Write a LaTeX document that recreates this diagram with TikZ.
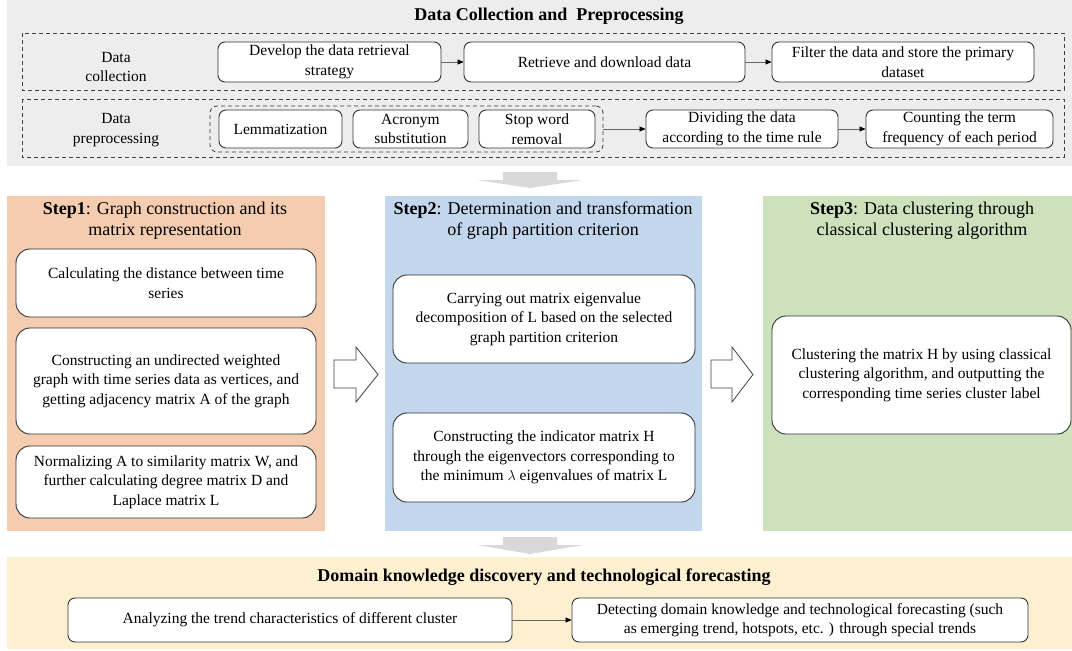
\documentclass[tikz,border=0pt]{standalone}
\usepackage{fontspec}
\setmainfont{Liberation Serif}
\usetikzlibrary{arrows.meta}
\definecolor{topgray}{HTML}{EDEDED}
\definecolor{pone}{HTML}{F4CCAF}
\definecolor{ptwo}{HTML}{C2D6EC}
\definecolor{pthree}{HTML}{CCE1BC}
\definecolor{pfour}{HTML}{FDF0D0}
\begin{document}
\begin{tikzpicture}[x=1pt,y=-1pt,
  txt/.style={font=\fontsize{15.5}{19.5}\selectfont, align=center, inner sep=0pt},
  rbox/.style={draw=black!80, line width=0.9pt, fill=white, rounded corners=7pt, align=center, inner sep=0pt, font=\fontsize{15.5}{19.5}\selectfont},
  sbox/.style={rbox, rounded corners=14pt},
  dbox/.style={draw=black!75, line width=0.8pt, dash pattern=on 4pt off 3pt},
  flow/.style={draw=black!60, line width=0.7pt, -{Triangle[length=6pt,width=5pt,color=black]}},
  bigarrow/.style={draw=black!75, line width=0.8pt, fill=white, line join=miter},
  grayarrow/.style={fill=black!15},
  steptitle/.style={font=\fontsize{18}{21}\selectfont, align=center, inner sep=0pt},
  maintitle/.style={font=\bfseries\fontsize{18}{21}\selectfont, inner sep=0pt},
]
\useasboundingbox (0,0) rectangle (1072,651);
% backgrounds
\fill[topgray] (7,0) rectangle (1072,166);
\fill[pone] (7,196) rectangle (325,531);
\fill[ptwo] (385,196) rectangle (702,531);
\fill[pthree] (763,196) rectangle (1072,531);
\fill[pfour] (7,557) rectangle (1072,649);
% gray down arrows
\fill[grayarrow] (503,172) -- (557,172) -- (557,180) -- (583,180) -- (530,188) -- (477,180) -- (503,180) -- cycle;
\fill[grayarrow] (503,537) -- (557,537) -- (557,545) -- (583,545) -- (530,554) -- (477,545) -- (503,545) -- cycle;
% hollow arrows
\draw[bigarrow] (334,360) -- (356,360) -- (356,347) -- (378,374.5) -- (356,402) -- (356,388) -- (334,388) -- cycle;
\draw[bigarrow] (711,360) -- (732,360) -- (732,347) -- (753,374.5) -- (732,402) -- (732,388) -- (711,388) -- cycle;
% top section
\node[maintitle] (ttl) at (549,16) {Data Collection and~~Preprocessing};
\draw[dbox] (22,33) rectangle (1064,90);
\draw[dbox] (22,99) rectangle (1064,157);
\node[txt] (lbl1) at (116,67) {Data\\collection};
\node[txt] (lbl2) at (116,130) {Data\\preprocessing};
\node[rbox, minimum width=223pt, minimum height=40pt] (dev) at (329.5,62) {Develop the data retrieval\\strategy};
\node[rbox, minimum width=281pt, minimum height=40pt] (ret) at (604.5,62) {Retrieve and download data};
\node[rbox, minimum width=262pt, minimum height=40pt] (fil) at (903,62) {Filter the data and store the primary\\dataset};
\node[dbox, rounded corners=7pt, minimum width=393pt, minimum height=46pt] (grp) at (406.5,129) {};
\node[rbox, minimum width=123pt, minimum height=38pt] (lem) at (280.5,129) {Lemmatization};
\node[rbox, minimum width=115pt, minimum height=38pt] (acr) at (410.5,129) {Acronym\\substitution};
\node[rbox, minimum width=116pt, minimum height=38pt] (stp) at (537,129) {Stop word\\removal};
\node[rbox, minimum width=192pt, minimum height=38pt] (div) at (742,129) {Dividing the data\\according to the time rule};
\node[rbox, minimum width=187pt, minimum height=38pt] (cnt) at (959.5,129) {Counting the term\\frequency of each period};
\draw[flow] (dev) -- (ret);
\draw[flow] (ret) -- (fil);
\draw[flow] (grp) -- (div);
\draw[flow] (div) -- (cnt);
% step panels
\node[steptitle] (t1) at (165,220.5) {\textbf{Step1}: Graph construction and its\\matrix representation};
\node[steptitle] (t2) at (543,220.5) {\textbf{Step2}: Determination and transformation\\of graph partition criterion};
\node[steptitle] (t3) at (922,220.5) {\textbf{Step3}: Data clustering through\\classical clustering algorithm};
\node[sbox, minimum width=300pt, minimum height=68pt] (s1a) at (166,283) {Calculating the distance between time\\series};
\node[sbox, minimum width=300pt, minimum height=106pt] (s1b) at (166,381) {Constructing an undirected weighted\\graph with time series data as vertices, and\\getting adjacency matrix A of the graph};
\node[sbox, minimum width=300pt, minimum height=72pt] (s1c) at (166,482) {Normalizing A to similarity matrix W, and\\further calculating degree matrix D and\\Laplace matrix L};
\node[sbox, minimum width=302pt, minimum height=88pt] (s2a) at (544,319) {Carrying out matrix eigenvalue\\decomposition of L based on the selected\\graph partition criterion};
\node[sbox, minimum width=302pt, minimum height=89pt] (s2b) at (544,457.5) {Constructing the indicator matrix H\\through the eigenvectors corresponding to\\the minimum $\lambda$ eigenvalues of matrix L};
\node[sbox, minimum width=299pt, minimum height=118pt] (s3a) at (921.5,375) {Clustering the matrix H by using classical\\clustering algorithm, and outputting the\\corresponding time series cluster label};
% bottom
\node[maintitle] (bt) at (544,577) {Domain knowledge discovery and technological forecasting};
\node[rbox, minimum width=444pt, minimum height=44pt] (b1) at (290,620) {Analyzing the trend characteristics of different cluster};
\node[rbox, minimum width=456pt, minimum height=44pt] (b2) at (800,620) {Detecting domain knowledge and technological forecasting (such\\as emerging trend, hotspots, etc. ) through special trends};
\draw[flow] (b1) -- (b2);
\end{tikzpicture}
\end{document}
